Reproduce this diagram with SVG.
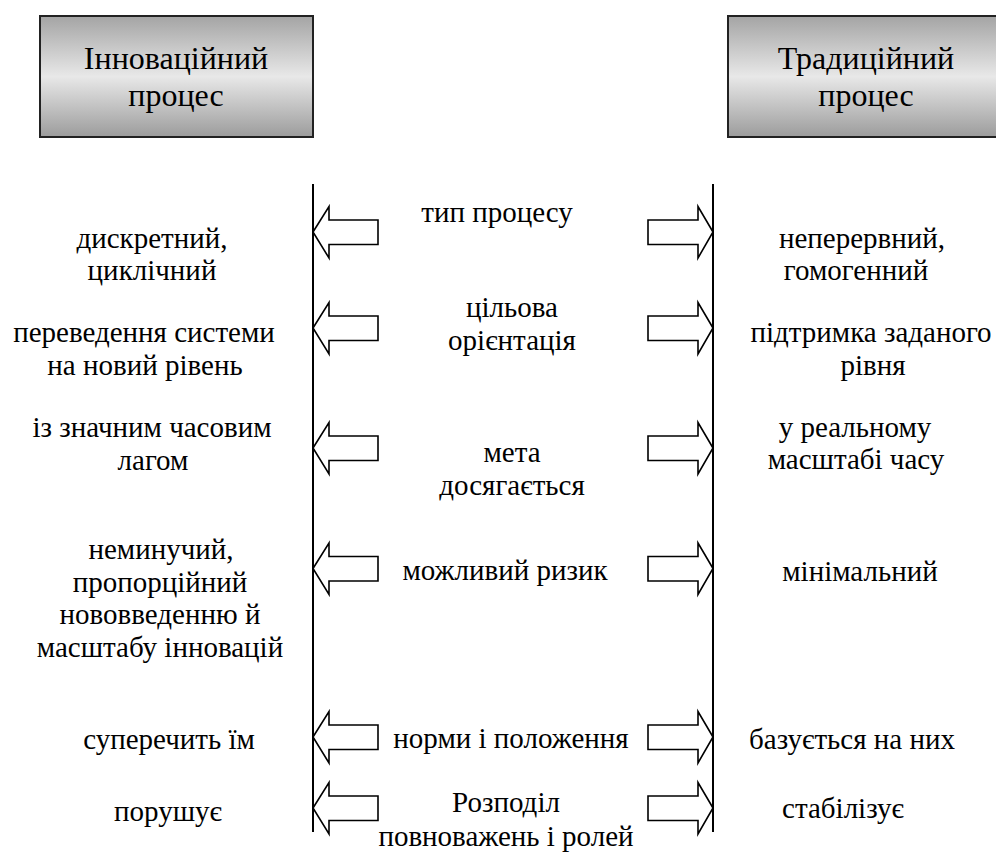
<svg xmlns="http://www.w3.org/2000/svg" width="996" height="861" viewBox="0 0 996 861">
<defs>
<linearGradient id="g" x1="0" y1="0" x2="0" y2="1">
<stop offset="0" stop-color="#a4a4a4"/>
<stop offset="0.5" stop-color="#e8e8e8"/>
<stop offset="1" stop-color="#9c9c9c"/>
</linearGradient>
<polygon id="la" points="0,0 16,-25.5 16,-12 65,-12 65,12.5 16,12.5 16,26"/>
<polygon id="ra" points="0,0 -15,-25.5 -15,-12 -65,-12 -65,12.5 -15,12.5 -15,26"/>
</defs>
<style>
.box{fill:url(#g);stroke:#222;stroke-width:2}
.ln{stroke:#000;stroke-width:2;fill:none}
.arr{fill:#fff;stroke:#000;stroke-width:1.6}
</style>
<rect width="996" height="861" fill="#fff"/>
<g id="innov">
<rect class="box" x="40" y="16" width="273" height="121"/>
<text x="176" y="69" style="font-family:'Liberation Serif';font-size:32px" text-anchor="middle">Інноваційний</text>
<text x="176" y="106" style="font-family:'Liberation Serif';font-size:32px" text-anchor="middle">процес</text>
</g>
<g id="trad">
<rect class="box" x="728" y="16" width="273" height="121"/>
<text x="866" y="69" style="font-family:'Liberation Serif';font-size:32px" text-anchor="middle">Традиційний</text>
<text x="866" y="106" style="font-family:'Liberation Serif';font-size:32px" text-anchor="middle">процес</text>
</g>
<g id="connectors">
<line class="ln" x1="313" y1="184" x2="313" y2="832"/>
<line class="ln" x1="713" y1="184" x2="713" y2="832"/>
<use href="#la" class="arr" x="313" y="232"/>
<use href="#ra" class="arr" x="713" y="232"/>
<use href="#la" class="arr" x="313" y="328"/>
<use href="#ra" class="arr" x="713" y="328"/>
<use href="#la" class="arr" x="313" y="448"/>
<use href="#ra" class="arr" x="713" y="448"/>
<use href="#la" class="arr" x="313" y="568.5"/>
<use href="#ra" class="arr" x="713" y="568.5"/>
<use href="#la" class="arr" x="313" y="737"/>
<use href="#ra" class="arr" x="713" y="737"/>
<use href="#la" class="arr" x="313" y="808"/>
<use href="#ra" class="arr" x="713" y="808"/>
</g>
<g id="labels" text-anchor="middle">
<text x="152" y="248" style="font-family:'Liberation Serif';font-size:29px">дискретний,</text>
<text x="152" y="280" style="font-family:'Liberation Serif';font-size:29px">циклічний</text>
<text x="497" y="222" style="font-family:'Liberation Serif';font-size:29px">тип процесу</text>
<text x="862" y="248" style="font-family:'Liberation Serif';font-size:29px">неперервний,</text>
<text x="856" y="280" style="font-family:'Liberation Serif';font-size:29px">гомогенний</text>
<text x="144" y="342" style="font-family:'Liberation Serif';font-size:29px">переведення системи</text>
<text x="145" y="375" style="font-family:'Liberation Serif';font-size:29px">на новий рівень</text>
<text x="512" y="317" style="font-family:'Liberation Serif';font-size:29px">цільова</text>
<text x="512" y="350" style="font-family:'Liberation Serif';font-size:29px">орієнтація</text>
<text x="871" y="342" style="font-family:'Liberation Serif';font-size:29px">підтримка заданого</text>
<text x="873" y="375" style="font-family:'Liberation Serif';font-size:29px">рівня</text>
<text x="152" y="437" style="font-family:'Liberation Serif';font-size:29px">із значним часовим</text>
<text x="153" y="470" style="font-family:'Liberation Serif';font-size:29px">лагом</text>
<text x="512" y="462" style="font-family:'Liberation Serif';font-size:29px">мета</text>
<text x="512" y="495" style="font-family:'Liberation Serif';font-size:29px">досягається</text>
<text x="855" y="437" style="font-family:'Liberation Serif';font-size:29px">у реальному</text>
<text x="856" y="469" style="font-family:'Liberation Serif';font-size:29px">масштабі часу</text>
<text x="161" y="559" style="font-family:'Liberation Serif';font-size:29px">неминучий,</text>
<text x="160" y="592" style="font-family:'Liberation Serif';font-size:29px">пропорційний</text>
<text x="160" y="624" style="font-family:'Liberation Serif';font-size:29px">нововведенню й</text>
<text x="160" y="657" style="font-family:'Liberation Serif';font-size:29px">масштабу інновацій</text>
<text x="505" y="580" style="font-family:'Liberation Serif';font-size:29px">можливий ризик</text>
<text x="860" y="581" style="font-family:'Liberation Serif';font-size:29px">мінімальний</text>
<text x="169" y="749" style="font-family:'Liberation Serif';font-size:29px">суперечить їм</text>
<text x="511" y="748" style="font-family:'Liberation Serif';font-size:29px">норми і положення</text>
<text x="852" y="749" style="font-family:'Liberation Serif';font-size:29px">базується на них</text>
<text x="168" y="821" style="font-family:'Liberation Serif';font-size:29px">порушує</text>
<text x="506" y="812" style="font-family:'Liberation Serif';font-size:29px">Розподіл</text>
<text x="506" y="846" style="font-family:'Liberation Serif';font-size:29px">повноважень і ролей</text>
<text x="843" y="818" style="font-family:'Liberation Serif';font-size:29px">стабілізує</text>
</g>
</svg>
